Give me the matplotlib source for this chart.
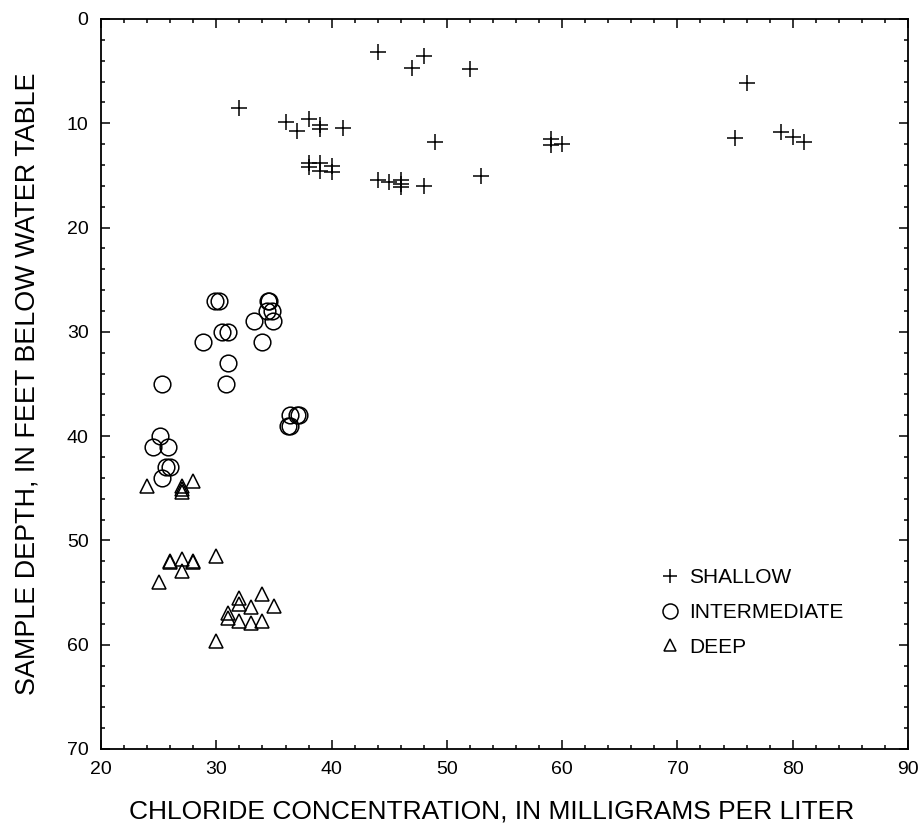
import numpy as np
import matplotlib
matplotlib.use('Agg')
from matplotlib import pyplot as plt
from matplotlib.ticker import MultipleLocator

plt.rcParams['font.family'] = ['Liberation Sans', 'DejaVu Sans']

# Shallow wells (+)
shallow_cl = [44, 48, 47, 52, 76, 32, 36, 37, 38, 39, 39, 41, 49, 59, 59, 60,
              75, 79, 80, 81, 38, 38, 39, 39, 40, 40, 44, 45, 46, 46, 46, 48, 53]
shallow_depth = [3.2, 3.6, 4.7, 4.8, 6.1, 8.5, 9.9, 10.7, 9.6, 10.2, 10.6, 10.5,
                 11.8, 11.5, 12.1, 12.0, 11.4, 10.8, 11.3, 11.8, 13.8, 14.2,
                 13.8, 14.6, 14.1, 14.7, 15.4, 15.6, 15.4, 15.8, 16.1, 16.0, 15.1]

# Intermediate wells (o)
inter_cl = [34.5, 34.6, 34.4, 34.8, 33.3, 34.9, 34.0, 29.9, 30.2, 30.5, 31.0,
            28.8, 31.0, 25.3, 30.8, 36.4, 37.0, 37.2, 36.2, 36.4, 25.1, 24.5,
            25.8, 25.6, 26.0, 25.3]
inter_depth = [27, 27, 28, 28, 29, 29, 31, 27, 27, 30, 30,
               31, 33, 35, 35, 38, 38, 38, 39, 39, 40, 41,
               41, 43, 43, 44]

# Deep wells (triangles)
deep_cl = [24, 27, 27, 27, 28, 26, 26, 27, 28, 28, 30, 27, 25, 32, 34, 32, 33,
           35, 31, 31, 32, 33, 34, 30]
deep_depth = [44.8, 44.8, 45.1, 45.4, 44.3, 52.0, 52.1, 51.8, 52.0, 52.1, 51.5,
              52.9, 54.0, 55.5, 55.1, 56.1, 56.4, 56.3, 57.0, 57.4, 57.7, 57.9,
              57.7, 59.6]

fig = plt.figure(figsize=(9.19, 8.31), dpi=100)
ax = fig.add_axes([0.110, 0.0987, 0.878, 0.8785])

ax.plot(shallow_cl, shallow_depth, '+', color='black', ms=11, mew=1.1,
        linestyle='none', label='SHALLOW')
ax.plot(inter_cl, inter_depth, 'o', mfc='none', mec='black', ms=12, mew=1.1,
        linestyle='none', label='INTERMEDIATE')
ax.plot(deep_cl, deep_depth, '^', mfc='none', mec='black', ms=10, mew=1.1,
        linestyle='none', label='DEEP')

ax.set_xlim(20, 90)
ax.set_ylim(70, 0)
ax.xaxis.set_major_locator(MultipleLocator(10))
ax.xaxis.set_minor_locator(MultipleLocator(2))
ax.yaxis.set_major_locator(MultipleLocator(10))
ax.yaxis.set_minor_locator(MultipleLocator(2))
ax.tick_params(which='both', direction='in', top=True, right=True,
               labelsize=14, width=1.1)
ax.tick_params(which='major', length=6.5, pad=9)
ax.tick_params(which='minor', length=3.2)
for s in ax.spines.values():
    s.set_linewidth(1.3)

ax.set_xlabel('CHLORIDE CONCENTRATION, IN MILLIGRAMS PER LITER', fontsize=19,
              labelpad=15)
ax.xaxis.label.set_x(0.4845)
ax.set_ylabel('SAMPLE DEPTH, IN FEET BELOW WATER TABLE', fontsize=19.4,
              labelpad=19)

ax.legend(loc='center left', bbox_to_anchor=(0.693, 0.187), frameon=False,
          fontsize=15, markerscale=0.9, handlelength=0.9, handletextpad=0.5,
          labelspacing=0.75, borderpad=0, borderaxespad=0)

fig.savefig('out.png', dpi=100)
